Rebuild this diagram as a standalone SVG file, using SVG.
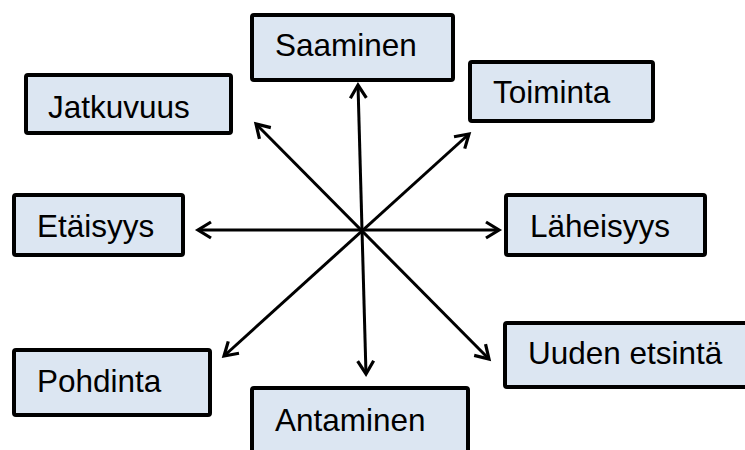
<svg xmlns="http://www.w3.org/2000/svg" width="745" height="450" viewBox="0 0 745 450">
  <style>
    .box { fill: #dce6f2; stroke: #000; stroke-width: 4; }
    .lbl { font-family: "Liberation Sans", Arial, sans-serif; font-size: 31.5px; fill: #000; }
    .conn { stroke: #000; stroke-width: 3; fill: none; marker-start: url(#arr); marker-end: url(#arr); }
  </style>
  <defs>
    <marker id="arr" markerUnits="userSpaceOnUse" markerWidth="24" markerHeight="24" viewBox="-18 -12 24 24" refX="0" refY="0" orient="auto-start-reverse">
      <path d="M-13,-8 L0,0 L-13,8" fill="none" stroke="#000" stroke-width="3.2" stroke-linejoin="miter" stroke-linecap="butt"/>
    </marker>
  </defs>
  <rect width="745" height="450" fill="#fff"/>
  <g id="connectors">
    <line class="conn" x1="358" y1="85" x2="366" y2="374"/>
    <line class="conn" x1="198" y1="230" x2="499" y2="230"/>
    <line class="conn" x1="256" y1="124" x2="489" y2="359"/>
    <line class="conn" x1="469" y1="134" x2="224" y2="356"/>
  </g>
  <g id="node-saaminen">
    <rect class="box" x="252" y="15" width="201" height="65" rx="2"/>
    <text class="lbl" x="275" y="56">Saaminen</text>
  </g>
  <g id="node-jatkuvuus">
    <rect class="box" x="26" y="75" width="205" height="58" rx="2"/>
    <text class="lbl" x="48" y="118">Jatkuvuus</text>
  </g>
  <g id="node-toiminta">
    <rect class="box" x="470" y="62" width="183" height="59" rx="2"/>
    <text class="lbl" x="493" y="103">Toiminta</text>
  </g>
  <g id="node-etaisyys">
    <rect class="box" x="14" y="195" width="169" height="60" rx="2"/>
    <text class="lbl" x="37" y="237">Etäisyys</text>
  </g>
  <g id="node-laheisyys">
    <rect class="box" x="506" y="195" width="199" height="60" rx="2"/>
    <text class="lbl" x="530" y="237">Läheisyys</text>
  </g>
  <g id="node-pohdinta">
    <rect class="box" x="14" y="350" width="196" height="65" rx="2"/>
    <text class="lbl" x="37" y="392">Pohdinta</text>
  </g>
  <g id="node-uuden-etsinta">
    <rect class="box" x="505" y="323" width="260" height="64" rx="2"/>
    <text class="lbl" x="528" y="364">Uuden etsintä</text>
  </g>
  <g id="node-antaminen">
    <rect class="box" x="252" y="388" width="216" height="80" rx="2"/>
    <text class="lbl" x="275" y="431">Antaminen</text>
  </g>
</svg>
